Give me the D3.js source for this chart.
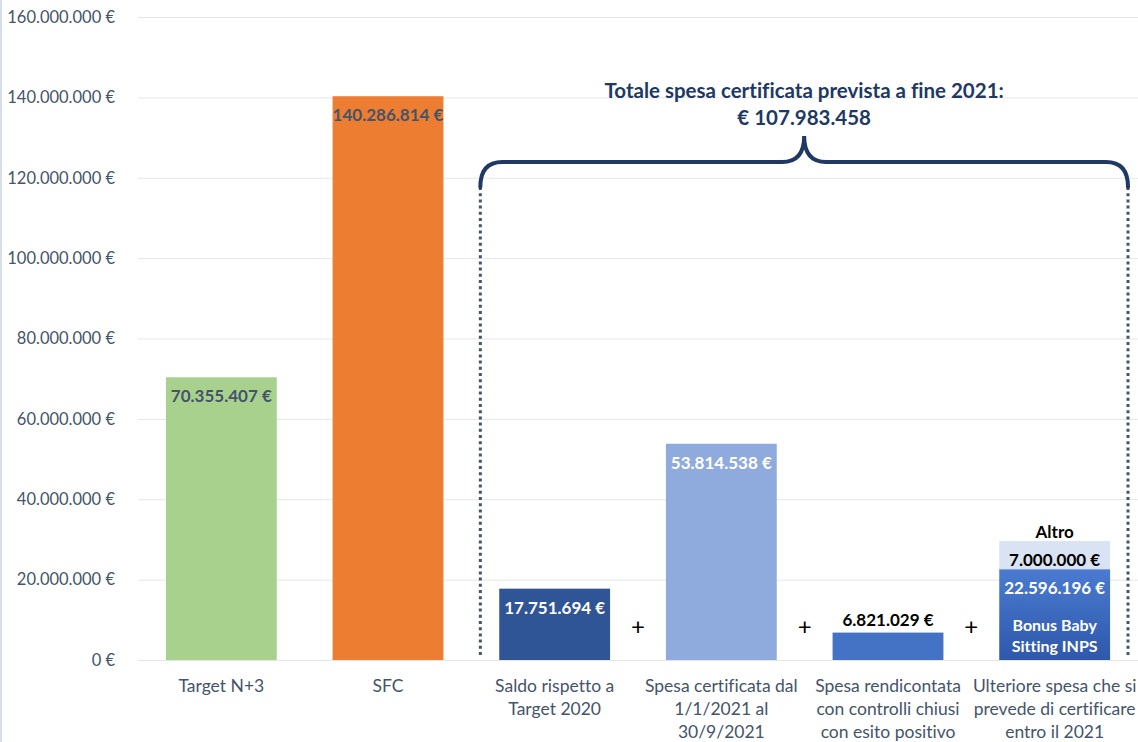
<!DOCTYPE html>
<html>
<head>
<meta charset="utf-8">
<script src="https://cdn.jsdelivr.net/npm/d3@7"></script>
<style>
  html, body { margin: 0; padding: 0; background: #fff; }
  svg { display: block; font-family: Lato, "Open Sans", sans-serif; font-variant-ligatures: none; }
</style>
</head>
<body>
<svg id="chart"></svg>
<script>
'use strict';

const categories = [
    ['Target N+3'],
    ['SFC'],
    ['Saldo rispetto a', 'Target 2020'],
    ['Spesa certificata dal', '1/1/2021 al', '30/9/2021'],
    ['Spesa rendicontata', 'con controlli chiusi', 'con esito positivo'],
    ['Ulteriore spesa che si', 'prevede di certificare', 'entro il 2021']
];
const mainValues = [70355407, 140286814, 17751694, 53814538, 6821029, 22596196];
const altroValues = [0, 0, 0, 0, 0, 7000000];
const yTicks = [0, 20000000, 40000000, 60000000, 80000000, 100000000, 120000000, 140000000, 160000000];
const totalLabel = ['Totale spesa certificata prevista a fine 2021:', '€ 107.983.458'];

(function () {
    const width = 1138;
    const height = 742;
    const margin = { top: 17, right: 0, bottom: 82, left: 138 };
    const svg = d3.select('#chart').attr('width', width).attr('height', height);

    const fills = ['#a9d18e', '#ed7d31', '#2f5597', '#8faadc', '#4472c4', 'url(#bonus-grad)'];
    const labelColors = ['#44546a', '#44546a', '#ffffff', '#ffffff', '#000000', '#ffffff'];

    const defs = svg.append('defs');
    const grad = defs.append('linearGradient')
        .attr('id', 'bonus-grad')
        .attr('x1', 0).attr('y1', 0).attr('x2', 0).attr('y2', 1);
    grad.append('stop').attr('offset', '0%').attr('stop-color', '#4a7bd0');
    grad.append('stop').attr('offset', '100%').attr('stop-color', '#2e58ac');

    const fmt = v => d3.format(',')(v).replace(/,/g, '.') + ' €';

    const x = d3.scaleBand()
        .domain(d3.range(categories.length))
        .range([margin.left, width - margin.right])
        .paddingInner(0.335)
        .paddingOuter(0.1675);

    const y = d3.scaleLinear()
        .domain([0, 160000000])
        .range([height - margin.bottom, margin.top]);

    // left edge line
    svg.append('line')
        .attr('x1', 1).attr('x2', 1).attr('y1', 0).attr('y2', height)
        .attr('stroke', '#d9dfe8').attr('stroke-width', 2);

    // grid
    svg.append('g').selectAll('line')
        .data(yTicks)
        .enter().append('line')
        .attr('x1', margin.left).attr('x2', width)
        .attr('y1', d => y(d) + 0.5).attr('y2', d => y(d) + 0.5)
        .attr('stroke', '#e6e6e6');

    const yAxis = svg.append('g')
        .attr('transform', 'translate(' + (margin.left - 20) + ',0)')
        .call(d3.axisLeft(y).tickValues(yTicks).tickSize(0).tickFormat(fmt));
    yAxis.select('.domain').remove();
    yAxis.selectAll('text')
        .attr('font-size', '16.5px')
        .attr('font-family', 'Lato, sans-serif')
        .attr('fill', '#44546a');

    // bars
    svg.append('g').selectAll('rect')
        .data(mainValues)
        .enter().append('rect')
        .attr('x', (d, i) => x(i))
        .attr('y', d => y(d))
        .attr('width', x.bandwidth())
        .attr('height', d => y(0) - y(d))
        .attr('fill', (d, i) => fills[i]);

    svg.append('g').selectAll('rect')
        .data(altroValues)
        .enter().filter(d => d > 0).append('rect')
        .attr('x', () => x(5))
        .attr('y', d => y(mainValues[5] + d))
        .attr('width', x.bandwidth())
        .attr('height', d => y(0) - y(d))
        .attr('fill', '#dae3f3');

    // value labels
    const labels = svg.append('g')
        .attr('font-weight', 'bold')
        .attr('font-size', '17px')
        .attr('text-anchor', 'middle');

    labels.selectAll('text.val')
        .data(mainValues)
        .enter().append('text')
        .attr('class', 'val')
        .attr('x', (d, i) => x(i) + x.bandwidth() / 2)
        .attr('y', (d, i) => i === 4 ? y(d) - 7 : y(d) + 25)
        .attr('fill', (d, i) => labelColors[i])
        .text(fmt);

    const cx5 = x(5) + x.bandwidth() / 2;
    const top5 = y(mainValues[5] + altroValues[5]);
    labels.append('text')
        .attr('x', cx5).attr('y', top5 + 25)
        .attr('fill', '#000').text(fmt(altroValues[5]));
    labels.append('text')
        .attr('x', cx5).attr('y', top5 - 3)
        .attr('fill', '#000').text('Altro');
    labels.append('text')
        .attr('x', cx5).attr('y', y(0) - 29)
        .attr('fill', '#fff').attr('font-size', '16px').text('Bonus Baby');
    labels.append('text')
        .attr('x', cx5).attr('y', y(0) - 8)
        .attr('fill', '#fff').attr('font-size', '16px').text('Sitting INPS');

    // plus signs between bars
    svg.append('g').selectAll('text')
        .data([2, 3, 4])
        .enter().append('text')
        .attr('x', i => x(i) + x.bandwidth() + x.step() * x.paddingInner() / 2)
        .attr('y', y(0) - 25)
        .attr('text-anchor', 'middle')
        .attr('font-size', '24px')
        .attr('fill', '#000')
        .text('+');

    // category labels
    svg.append('g').selectAll('text')
        .data(categories)
        .enter().append('text')
        .attr('text-anchor', 'middle')
        .attr('font-size', '17.5px')
        .attr('fill', '#44546a')
        .attr('x', (d, i) => x(i) + x.bandwidth() / 2)
        .attr('y', y(0) + 32)
        .each(function (d) {
            d3.select(this).selectAll('tspan')
                .data(d)
                .enter().append('tspan')
                .attr('x', d3.select(this).attr('x'))
                .attr('dy', (t, j) => j === 0 ? 0 : 23)
                .text(t => t);
        });

    // dotted bracket sides
    const left = x(2) - x.step() * x.paddingInner() / 2 + 9;
    const right = x(5) + x.bandwidth() + x.step() * x.paddingInner() / 2 - 10;
    const braceY = 162;
    const sideTop = 187;
    svg.append('g').selectAll('line')
        .data([left, right])
        .enter().append('line')
        .attr('x1', d => d).attr('x2', d => d)
        .attr('y1', sideTop).attr('y2', y(0) - 4)
        .attr('stroke', '#44546a')
        .attr('stroke-width', 3)
        .attr('stroke-dasharray', '3 3.2');

    // curly brace
    const mid = (left + right) / 2;
    const tipY = 136;
    const r = 22;
    const path = d3.path();
    path.moveTo(left, sideTop);
    path.quadraticCurveTo(left, braceY, left + r, braceY);
    path.lineTo(mid - r, braceY);
    path.quadraticCurveTo(mid, braceY, mid, tipY);
    path.quadraticCurveTo(mid, braceY, mid + r, braceY);
    path.lineTo(right - r, braceY);
    path.quadraticCurveTo(right, braceY, right, sideTop);
    svg.append('path')
        .attr('d', path.toString())
        .attr('fill', 'none')
        .attr('stroke', '#203864')
        .attr('stroke-width', 4)
        .attr('stroke-linecap', 'round');

    svg.append('g').selectAll('text')
        .data(totalLabel)
        .enter().append('text')
        .attr('x', mid)
        .attr('y', (d, i) => 98 + i * 27)
        .attr('text-anchor', 'middle')
        .attr('font-size', '20.5px')
        .attr('font-weight', 'bold')
        .attr('fill', '#203864')
        .text(d => d);
}());
</script>
</body>
</html>
